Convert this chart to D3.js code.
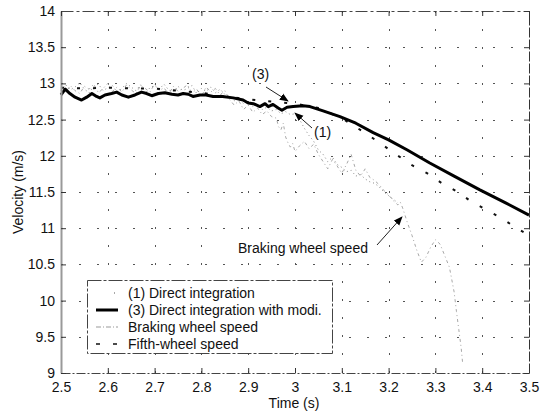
<!DOCTYPE html>
<html>
<head>
<meta charset="utf-8">
<script src="https://cdn.jsdelivr.net/npm/d3@7/dist/d3.min.js"></script>
<style>
  html, body { margin: 0; padding: 0; background: #fff; }
  svg { display: block; font-family: "Liberation Sans", Arial, Helvetica, sans-serif; }
</style>
</head>
<body>
<svg id="chart" width="543" height="414"></svg>
<script>
// Tick values and labels
const xTicks = [2.5, 2.6, 2.7, 2.8, 2.9, 3.0, 3.1, 3.2, 3.3, 3.4, 3.5];
const xTickLabels = ["2.5", "2.6", "2.7", "2.8", "2.9", "3", "3.1", "3.2", "3.3", "3.4", "3.5"];
const yTicks = [9, 9.5, 10, 10.5, 11, 11.5, 12, 12.5, 13, 13.5, 14];
const yTickLabels = ["9", "9.5", "10", "10.5", "11", "11.5", "12", "12.5", "13", "13.5", "14"];

// (3) Direct integration with modification: [time, velocity]
const modifiedIntegration = [
  [2.500, 12.84], [2.509, 12.92], [2.519, 12.86], [2.530, 12.81], [2.544, 12.77],
  [2.555, 12.81], [2.566, 12.86], [2.576, 12.82], [2.583, 12.80], [2.594, 12.84],
  [2.608, 12.86], [2.619, 12.88], [2.630, 12.84], [2.644, 12.81], [2.658, 12.84],
  [2.672, 12.88], [2.683, 12.86], [2.694, 12.83], [2.708, 12.86], [2.722, 12.87],
  [2.737, 12.85], [2.750, 12.84], [2.761, 12.86], [2.772, 12.85], [2.782, 12.82],
  [2.797, 12.84], [2.810, 12.84], [2.825, 12.82], [2.845, 12.82], [2.868, 12.80],
  [2.889, 12.77], [2.900, 12.73], [2.911, 12.72], [2.925, 12.68], [2.936, 12.72],
  [2.943, 12.68], [2.953, 12.71], [2.964, 12.66], [2.972, 12.63], [2.983, 12.67],
  [2.996, 12.68], [3.017, 12.69], [3.032, 12.68], [3.060, 12.62], [3.096, 12.54],
  [3.130, 12.45], [3.167, 12.32], [3.200, 12.22], [3.240, 12.08], [3.288, 11.90],
  [3.340, 11.72], [3.395, 11.53], [3.450, 11.35], [3.500, 11.18]
];

// (1) Direct integration
const directIntegration = [
  [2.50, 12.90], [2.51, 12.98], [2.52, 12.91], [2.53, 12.95], [2.54, 13.01],
  [2.55, 12.92], [2.56, 12.87], [2.57, 12.96], [2.58, 12.99], [2.59, 12.90],
  [2.60, 12.94], [2.61, 12.97], [2.62, 12.88], [2.63, 12.93], [2.64, 13.00],
  [2.65, 12.95], [2.66, 12.90], [2.67, 12.98], [2.68, 12.86], [2.69, 12.94],
  [2.70, 12.97], [2.71, 12.92], [2.72, 12.99], [2.73, 12.91], [2.74, 12.88],
  [2.75, 12.96], [2.76, 12.90], [2.77, 12.93], [2.78, 12.97], [2.79, 12.86],
  [2.80, 12.93], [2.81, 12.89], [2.82, 12.95], [2.83, 12.87], [2.84, 12.92],
  [2.85, 12.85], [2.86, 12.82], [2.87, 12.76], [2.88, 12.80], [2.89, 12.72],
  [2.90, 12.74], [2.91, 12.68], [2.92, 12.71], [2.93, 12.64], [2.94, 12.67],
  [2.95, 12.62], [2.96, 12.64], [2.97, 12.58], [2.98, 12.61], [2.99, 12.57],
  [3.00, 12.58], [3.01, 12.50], [3.02, 12.38], [3.03, 12.28], [3.04, 12.20],
  [3.05, 12.08], [3.06, 12.02], [3.07, 11.92], [3.08, 11.98], [3.09, 11.88],
  [3.10, 11.84], [3.11, 11.78], [3.12, 11.80], [3.13, 11.72], [3.14, 11.74],
  [3.15, 11.68], [3.16, 11.64], [3.17, 11.62], [3.18, 11.57], [3.19, 11.50],
  [3.20, 11.45], [3.21, 11.40], [3.22, 11.35]
];

// Braking wheel speed
const brakingWheel = [
  [2.50, 12.95], [2.51, 12.88], [2.52, 12.97], [2.53, 12.90], [2.54, 12.86],
  [2.55, 12.96], [2.56, 12.92], [2.57, 12.99], [2.58, 12.87], [2.59, 12.93],
  [2.60, 13.00], [2.61, 12.89], [2.62, 12.95], [2.63, 12.88], [2.64, 12.98],
  [2.65, 12.91], [2.66, 12.86], [2.67, 12.97], [2.68, 12.93], [2.69, 12.88],
  [2.70, 12.99], [2.71, 12.90], [2.72, 12.94], [2.73, 12.85], [2.74, 12.96],
  [2.75, 12.89], [2.76, 12.93], [2.77, 12.98], [2.78, 12.87], [2.79, 12.92],
  [2.80, 12.82], [2.81, 12.95], [2.82, 12.88], [2.83, 12.93], [2.84, 12.84],
  [2.85, 12.90], [2.86, 12.78], [2.87, 12.70], [2.88, 12.76], [2.89, 12.64],
  [2.90, 12.70], [2.91, 12.60], [2.92, 12.66], [2.93, 12.57], [2.94, 12.62],
  [2.95, 12.54], [2.96, 12.52], [2.965, 12.40], [2.97, 12.36], [2.975, 12.45],
  [2.98, 12.26], [2.985, 12.18], [2.99, 12.12], [2.995, 12.17], [3.00, 12.06],
  [3.01, 12.14], [3.02, 12.20], [3.03, 12.10], [3.04, 12.16], [3.05, 12.02],
  [3.06, 11.92], [3.07, 11.82], [3.08, 11.95], [3.09, 11.86], [3.10, 11.76],
  [3.11, 11.88], [3.12, 12.02], [3.13, 11.80], [3.14, 11.72], [3.15, 11.82],
  [3.16, 11.70], [3.17, 11.66], [3.18, 11.60], [3.19, 11.52], [3.20, 11.46],
  [3.21, 11.38], [3.22, 11.32], [3.225, 11.36], [3.23, 11.28], [3.24, 11.08],
  [3.25, 10.90], [3.26, 10.70], [3.27, 10.53], [3.28, 10.60], [3.29, 10.74],
  [3.30, 10.84], [3.31, 10.78], [3.32, 10.62], [3.33, 10.46], [3.34, 10.12],
  [3.345, 9.85], [3.35, 9.60], [3.355, 9.35], [3.358, 9.15]
];

// Fifth-wheel speed
const fifthWheel = [
  [2.50, 12.94], [2.55, 12.93], [2.60, 12.94], [2.65, 12.93], [2.70, 12.93],
  [2.75, 12.90], [2.80, 12.87], [2.85, 12.82], [2.90, 12.78], [2.95, 12.75],
  [3.00, 12.72], [3.05, 12.66], [3.10, 12.52], [3.156, 12.29], [3.218, 12.01],
  [3.25, 11.87], [3.282, 11.76], [3.314, 11.62], [3.348, 11.50], [3.376, 11.37],
  [3.41, 11.25], [3.443, 11.13], [3.474, 11.00], [3.50, 10.90]
];

const legendLabels = [
  "(1) Direct integration",
  "(3) Direct integration with modi.",
  "Braking wheel speed",
  "Fifth-wheel speed"
];

const svg = d3.select("#chart");
const plotLeft = 61, plotRight = 529, plotTop = 11, plotBottom = 373;

const x = d3.scaleLinear().domain([2.5, 3.5]).range([plotLeft, plotRight]);
const y = d3.scaleLinear().domain([9, 14]).range([plotBottom, plotTop]);

const ink = "#111";
const fontSize = 14;

// Grid (sparse dotted lines)
const grid = svg.append("g").attr("stroke", "#555").attr("stroke-width", 1)
  .attr("stroke-dasharray", "2,16");
grid.selectAll(".gx").data(xTicks.slice(1, -1)).join("line")
  .attr("x1", d => Math.round(x(d)) + 0.5).attr("x2", d => Math.round(x(d)) + 0.5)
  .attr("y1", plotTop).attr("y2", plotBottom);
grid.selectAll(".gy").data(yTicks.slice(1, -1)).join("line")
  .attr("y1", d => Math.round(y(d)) + 0.5).attr("y2", d => Math.round(y(d)) + 0.5)
  .attr("x1", plotLeft).attr("x2", plotRight);

// Series
const line = d3.line().x(d => x(d[0])).y(d => y(d[1]));
const plot = svg.append("g");

plot.append("path").datum(brakingWheel)
  .attr("fill", "none").attr("stroke", "#a8a8a8").attr("stroke-width", 1)
  .attr("stroke-dasharray", "3,3,1,3").attr("d", line);

plot.append("path").datum(directIntegration)
  .attr("fill", "none").attr("stroke", "#888").attr("stroke-width", 1)
  .attr("stroke-dasharray", "1,3").attr("d", line);

plot.append("path").datum(fifthWheel)
  .attr("fill", "none").attr("stroke", "#111").attr("stroke-width", 2)
  .attr("stroke-dasharray", "3,13").attr("d", line);

plot.append("path").datum(modifiedIntegration)
  .attr("fill", "none").attr("stroke", "#000").attr("stroke-width", 3)
  .attr("stroke-linejoin", "round").attr("d", line);

// Axes (ticks pointing inward on all four sides)
const fmtX = (d, i) => xTickLabels[i];
const fmtY = (d, i) => yTickLabels[i];

const axB = svg.append("g").attr("transform", `translate(0,${plotBottom})`)
  .call(d3.axisBottom(x).tickValues(xTicks).tickFormat(fmtX).tickSizeInner(-5).tickSizeOuter(0).tickPadding(9));
const axL = svg.append("g").attr("transform", `translate(${plotLeft},0)`)
  .call(d3.axisLeft(y).tickValues(yTicks).tickFormat(fmtY).tickSizeInner(-5).tickSizeOuter(0).tickPadding(6));
const axT = svg.append("g").attr("transform", `translate(0,${plotTop})`)
  .call(d3.axisTop(x).tickValues(xTicks).tickFormat("").tickSizeInner(-5).tickSizeOuter(0));
const axR = svg.append("g").attr("transform", `translate(${plotRight},0)`)
  .call(d3.axisRight(y).tickValues(yTicks).tickFormat("").tickSizeInner(-5).tickSizeOuter(0));

[axB, axL, axT, axR].forEach(a => {
  a.selectAll(".tick line").attr("stroke", "#333");
  a.selectAll("text").attr("fill", ink).attr("font-size", fontSize)
    .attr("font-family", "'Liberation Sans', Arial, sans-serif");
});
axB.select(".domain").attr("stroke", "#444").attr("stroke-dasharray", "9,2,2,2");
axL.select(".domain").attr("stroke", "#999").attr("stroke-width", 2);
axT.select(".domain").attr("stroke", "#444").attr("stroke-dasharray", "12,3,3,3");
axR.select(".domain").attr("stroke", "#333").attr("stroke-dasharray", "10,2");

// Axis titles
svg.append("text").attr("x", (plotLeft + plotRight) / 2 - 1).attr("y", 408)
  .attr("text-anchor", "middle").attr("font-size", fontSize).attr("fill", ink)
  .text("Time (s)");
svg.append("text").attr("transform", `translate(23,${(plotTop + plotBottom) / 2}) rotate(-90)`)
  .attr("text-anchor", "middle").attr("font-size", fontSize).attr("fill", ink)
  .text("Velocity (m/s)");

// Annotations with arrows
svg.append("defs").append("marker")
  .attr("id", "head").attr("viewBox", "0 0 10 10").attr("refX", 9).attr("refY", 5)
  .attr("markerWidth", 9).attr("markerHeight", 9).attr("orient", "auto")
  .attr("markerUnits", "userSpaceOnUse")
  .append("path").attr("d", "M0,1 L10,5 L0,9 Z").attr("fill", "#000");

function note(label, tx, ty, ax1, ay1, ax2, ay2) {
  svg.append("text").attr("x", tx).attr("y", ty).attr("font-size", fontSize)
    .attr("fill", ink).text(label);
  svg.append("line").attr("x1", ax1).attr("y1", ay1).attr("x2", ax2).attr("y2", ay2)
    .attr("stroke", "#222").attr("stroke-width", 1).attr("marker-end", "url(#head)");
}
note("(3)", 252, 79, 266, 87, 288, 101);
note("(1)", 314, 137, 312, 128, 295, 113);
note("Braking wheel speed", 238, 253, 377, 245, 402, 217);

// Legend
const lg = svg.append("g");
lg.append("rect").attr("x", 87.5).attr("y", 280.5).attr("width", 245).attr("height", 73)
  .attr("fill", "#fff").attr("stroke", "#444").attr("stroke-dasharray", "14,2,3,2");
const rowY = [293, 310, 327, 344];
const styles = [
  { stroke: "#555", width: 1.2, dash: "1,20", x1: 114, x2: 118 },
  { stroke: "#000", width: 3, dash: null, x1: 96, x2: 118 },
  { stroke: "#999", width: 1, dash: "5,2,1,2", x1: 96, x2: 118 },
  { stroke: "#111", width: 1.5, dash: "4,13", x1: 96, x2: 118 }
];
legendLabels.forEach((lab, i) => {
  const s = styles[i];
  lg.append("line").attr("x1", s.x1).attr("x2", s.x2).attr("y1", rowY[i]).attr("y2", rowY[i])
    .attr("stroke", s.stroke).attr("stroke-width", s.width)
    .attr("stroke-dasharray", s.dash);
  lg.append("text").attr("x", 128).attr("y", rowY[i] + 5).attr("font-size", fontSize)
    .attr("fill", ink).text(lab);
});
</script>
</body>
</html>
